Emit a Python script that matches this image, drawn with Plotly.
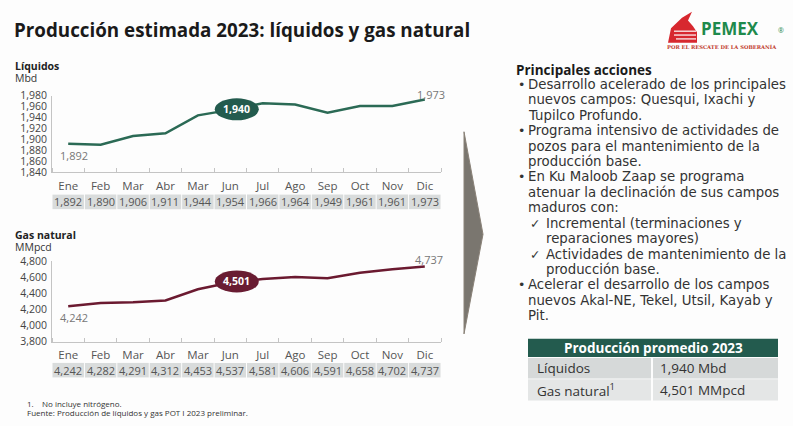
import plotly.graph_objects as go

W, H = 793, 426
FONT = "Open Sans"
TFONT = "DejaVu Sans"

# ---------------- data ----------------
meses = ["Ene", "Feb", "Mar", "Abr", "Mar", "Jun", "Jul", "Ago", "Sep", "Oct", "Nov", "Dic"]
liquidos = [1892, 1890, 1906, 1911, 1944, 1954, 1966, 1964, 1949, 1961, 1961, 1973]
gas_natural = [4242, 4282, 4291, 4312, 4453, 4537, 4581, 4606, 4591, 4658, 4702, 4737]
liq_ticks = [1840, 1860, 1880, 1900, 1920, 1940, 1960, 1980]
gas_ticks = [3800, 4000, 4200, 4400, 4600, 4800]
prom_liquidos = 1940
prom_gas = 4501

acciones = [
    ("•", "Desarrollo acelerado de los principales"),
    ("", "nuevos campos: Quesqui, Ixachi y"),
    ("", "Tupilco Profundo."),
    ("•", "Programa intensivo de actividades de"),
    ("", "pozos para el mantenimiento de la"),
    ("", "producción base."),
    ("•", "En Ku Maloob Zaap se programa"),
    ("", "atenuar la declinación de sus campos"),
    ("", "maduros con:"),
    ("✓", "Incremental (terminaciones y"),
    ("", "reparaciones mayores)"),
    ("✓", "Actividades de mantenimiento de la"),
    ("", "producción base."),
    ("•", "Acelerar el desarrollo de los campos"),
    ("", "nuevos Akal-NE, Tekel, Utsil, Kayab y"),
    ("", "Pit."),
]
indent = [0, 0, 0, 0, 0, 0, 0, 0, 0, 1, 1, 1, 1, 0, 0, 0]

GREEN = "#2b6a55"
GREEN_D = "#235b4e"
WINE = "#6b1a30"
WINE_D = "#691c32"
AX = "#c4c4c4"
CELL = "#d9dcdc"

x = list(range(len(meses)))


def px(xp, yp):
    return xp / W, 1 - yp / H


fig = go.Figure()
fig.add_trace(go.Scatter(x=x, y=liquidos, mode="lines", line=dict(color=GREEN, width=2.5),
                         xaxis="x", yaxis="y", hoverinfo="skip", showlegend=False))
fig.add_trace(go.Scatter(x=x, y=gas_natural, mode="lines", line=dict(color=WINE, width=2.5),
                         xaxis="x2", yaxis="y2", hoverinfo="skip", showlegend=False))

xdom = [52 / W, 441 / W]
ydom1 = [(H - 170.7) / H, (H - 91.7) / H]
ydom2 = [(H - 346) / H, (H - 263) / H]

common_x = dict(domain=xdom, range=[-0.5, 11.5], tickvals=x, ticktext=meses, showline=True,
                linecolor=AX, linewidth=1, ticks="", showgrid=False, zeroline=False,
                tickfont=dict(family=FONT, size=11.5, color="#555"), ticklabelstandoff=3,
                minor=dict(tickmode="linear", tick0=0.5, dtick=1, ticks="inside", ticklen=4,
                           tickcolor=AX, tickwidth=1, showgrid=False))
common_y = dict(showline=True, linecolor=AX, linewidth=1, ticks="", showgrid=False, zeroline=False,
                tickformat=",", tickfont=dict(family=FONT, size=10.5, color="#444"), ticklabelstandoff=2)

fig.update_layout(
    width=W, height=H, margin=dict(l=0, r=0, t=0, b=0),
    paper_bgcolor="#fdfdfd", plot_bgcolor="rgba(0,0,0,0)",
    xaxis=dict(anchor="y", **common_x),
    yaxis=dict(domain=ydom1, range=[liq_ticks[0], liq_ticks[-1]], tickvals=liq_ticks, anchor="x", **common_y),
    xaxis2=dict(anchor="y2", **common_x),
    yaxis2=dict(domain=ydom2, range=[gas_ticks[0], gas_ticks[-1]], tickvals=gas_ticks, anchor="x2", **common_y),
)

shapes = []
ann = []


def text(xp, yp, t, size=11, color="#333", bold=False, xanchor="left", family=FONT):
    xx, yy = px(xp, yp)
    ann.append(dict(x=xx, y=yy, xref="paper", yref="paper", text=f"<b>{t}</b>" if bold else t,
                    showarrow=False, xanchor=xanchor, yanchor="middle",
                    font=dict(family=family, size=size, color=color)))


# title
text(12, 24, "Producción estimada 2023: líquidos y gas natural", size=18.8, color="#1a1a1a", bold=True)

# chart headings
text(13, 61, "Líquidos", size=10.5, color="#222", bold=True)
text(13, 73, "Mbd", size=10.5, color="#333")
text(13, 236, "Gas natural", size=10.5, color="#222", bold=True)
text(13, 248, "MMpcd", size=10.5, color="#333")

# value rows under charts
for (series, xr, top, bot) in [(liquidos, "x", 194, 209), (gas_natural, "x2", 368, 383)]:
    y0 = (H - bot) / H
    y1 = (H - top) / H
    for i, v in enumerate(series):
        shapes.append(dict(type="rect", xref=xr, yref="paper", x0=i - 0.485, x1=i + 0.485, y0=y0, y1=y1,
                           fillcolor=CELL, line=dict(width=0), layer="below"))
        ann.append(dict(x=i, y=(y0 + y1) / 2, xref=xr, yref="paper", text=f"{v:,}", showarrow=False,
                        xanchor="center", yanchor="middle", font=dict(family=FONT, size=11, color="#555")))

# first / last labels
ann.append(dict(x=0, y=liquidos[0], xref="x", yref="y", text=f"{liquidos[0]:,}", showarrow=False,
                xanchor="left", yanchor="middle", xshift=-10, yshift=-12,
                font=dict(family=FONT, size=11, color="#777")))
ann.append(dict(x=11, y=liquidos[-1], xref="x", yref="y", text=f"{liquidos[-1]:,}", showarrow=False,
                xanchor="center", yanchor="middle", xshift=6, yshift=5,
                font=dict(family=FONT, size=11, color="#777")))
ann.append(dict(x=0, y=gas_natural[0], xref="x2", yref="y2", text=f"{gas_natural[0]:,}", showarrow=False,
                xanchor="left", yanchor="middle", xshift=-10, yshift=-11,
                font=dict(family=FONT, size=11, color="#777")))
ann.append(dict(x=11, y=gas_natural[-1], xref="x2", yref="y2", text=f"{gas_natural[-1]:,}", showarrow=False,
                xanchor="center", yanchor="middle", xshift=4, yshift=7,
                font=dict(family=FONT, size=11, color="#777")))

# average ellipses
for (val, xr, yr, ya, col) in [(prom_liquidos, "x", "y", 1955, GREEN_D), (prom_gas, "x2", "y2", 4550, WINE_D)]:
    shapes.append(dict(type="circle", xref=xr, yref=yr, xsizemode="pixel", ysizemode="pixel",
                       xanchor=5.2, yanchor=ya, x0=-22, x1=22, y0=-11, y1=11,
                       fillcolor=col, line=dict(width=0)))
    ann.append(dict(x=5.2, y=ya, xref=xr, yref=yr, text=f"<b>{val:,}</b>", showarrow=False,
                    xanchor="center", yanchor="middle", font=dict(family=FONT, size=10.5, color="white")))

# arrow
a = px(464, 129)
b = px(483, 235)
c = px(464, 338)
shapes.append(dict(type="path", xref="paper", yref="paper",
                   path=f"M {a[0]} {a[1]} L {b[0]} {b[1]} L {c[0]} {c[1]} Z",
                   fillcolor="#7a766f", line=dict(color="#8a8278", width=1)))

# right text
text(514, 65, "Principales acciones", size=13.5, color="#1a1a1a", bold=True)
for k, ((mark, line), ind) in enumerate(zip(acciones, indent)):
    yy = 80 + k * 15.95
    if ind:
        if mark:
            text(528, yy, mark, size=12.5, color="#333", family=TFONT)
        text(544, yy, line, size=13.3, color="#333", family=TFONT)
    else:
        if mark:
            text(516, yy, mark, size=12.5, color="#333", family=TFONT)
        text(526, yy, line, size=13.3, color="#333", family=TFONT)

# bottom-right table
def rect(x0, y0, x1, y1, col):
    p0 = px(x0, y1)
    p1 = px(x1, y0)
    shapes.append(dict(type="rect", xref="paper", yref="paper", x0=p0[0], y0=p0[1], x1=p1[0], y1=p1[1],
                       fillcolor=col, line=dict(width=0)))

rect(528, 343, 778, 362, GREEN_D)
rect(528, 363, 651, 384, "#d6d9d9")
rect(653, 363, 778, 384, "#d6d9d9")
rect(528, 385, 651, 407, "#e4e6e6")
rect(653, 385, 778, 407, "#e4e6e6")
text(653, 352.5, "Producción promedio 2023", size=13.5, color="white", bold=True, xanchor="center")
text(535, 373.5, "Líquidos", size=13.5, color="#333")
text(658, 373.5, f"{prom_liquidos:,} Mbd", size=13.5, color="#333")
text(535, 396, "Gas natural<sup>1</sup>", size=13.5, color="#333")
text(658, 396, f"{prom_gas:,} MMpcd", size=13.5, color="#333")

# footnotes
text(25, 410, "1.    No incluye nitrógeno.", size=8, color="#333")
text(25, 419, "Fuente: Producción de líquidos y gas POT I 2023 preliminar.", size=8, color="#333")

# PEMEX logo (simplified)
pts = [(668, 37), (671, 22), (682, 11), (692, 5), (688, 14), (693, 20), (697, 26), (697, 37)]
pp = [px(*p) for p in pts]
path = "M " + " L ".join(f"{p[0]} {p[1]}" for p in pp) + " Z"
shapes.append(dict(type="path", xref="paper", yref="paper", path=path, fillcolor="#d7282f", line=dict(width=0)))
for (x0, y0, x1, y1) in [(674, 25, 696, 25), (674, 29, 696, 29), (676, 33, 696, 33)]:
    p0 = px(x0, y0)
    p1 = px(x1, y1)
    shapes.append(dict(type="line", xref="paper", yref="paper", x0=p0[0], y0=p0[1], x1=p1[0], y1=p1[1],
                       line=dict(color="white", width=1.2)))
text(699, 22, "PEMEX", size=17, color="#1e8a4c", bold=True)
text(776, 24, "®", size=7, color="#1e8a4c")
text(722, 41, "POR EL RESCATE DE LA SOBERANÍA", size=5.2, color="#c0392b", bold=True,
     xanchor="center", family="DejaVu Serif")

fig.update_layout(shapes=shapes, annotations=ann)
fig.write_html(
    "out.html",
    config={"displayModeBar": False},
    post_script=("document.body.style.margin='0';"
                 "document.body.style.overflow='hidden';"
                 "document.documentElement.style.overflow='hidden';"),
)
